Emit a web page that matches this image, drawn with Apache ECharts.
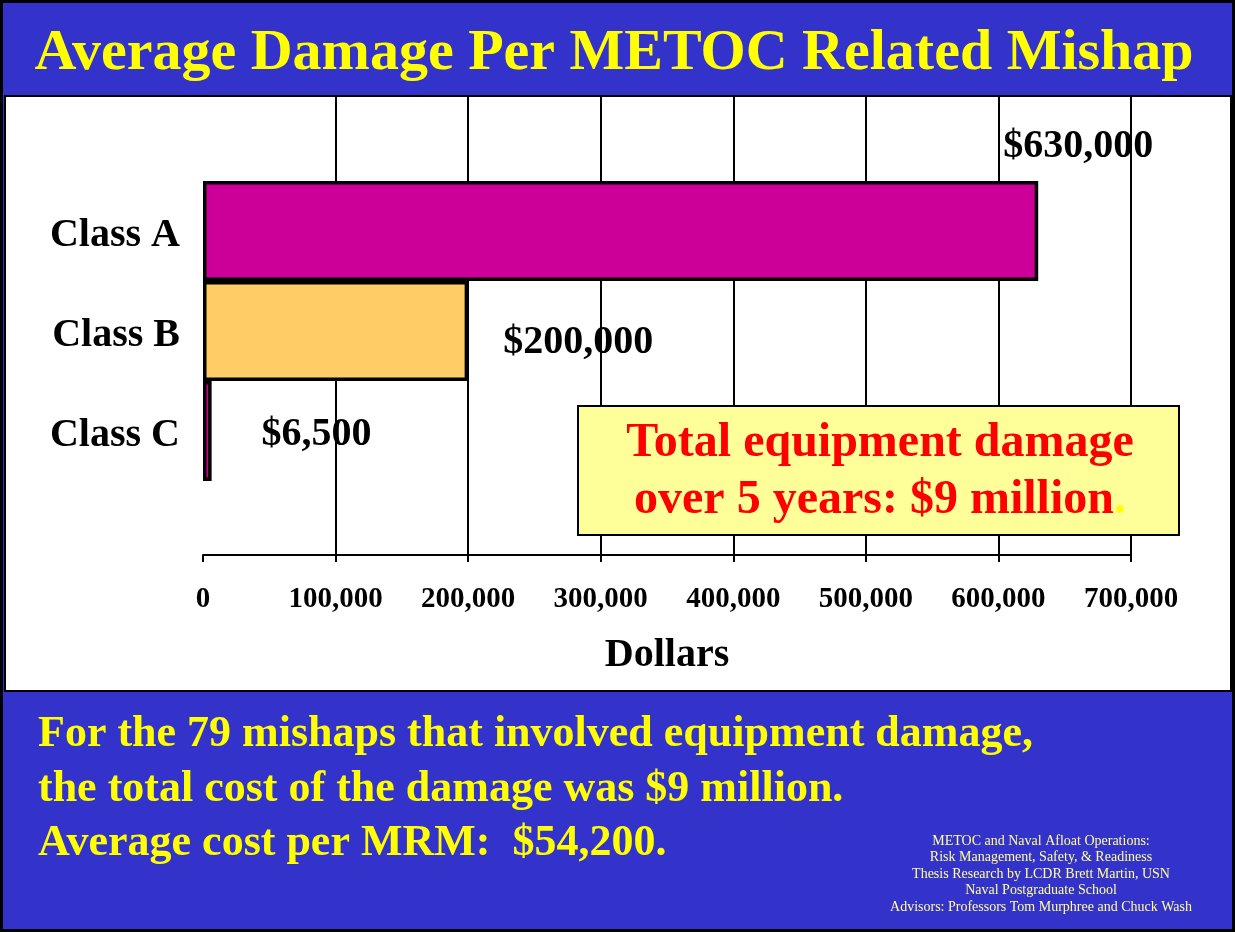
<!DOCTYPE html>
<html lang="en">
<head>
    <meta charset="UTF-8">
    <script src="https://cdn.jsdelivr.net/npm/echarts@6/dist/echarts.min.js"></script>
    <title>Average Damage Per METOC Related Mishap</title>
    <style>
        html, body { margin: 0; padding: 0; background: #3333CC; }
        #main { width: 1235px; height: 932px; }
    </style>
</head>
<body>
    <div id="main"></div>
    <script>
        // data
        var categories = ['Class A', 'Class B', 'Class C'];
        var damage = [630000, 200000, 6500];
        var axisMax = 700000;
        var axisStep = 100000;

        var titleText = 'Average Damage Per METOC Related Mishap';
        var boxLines = ['Total equipment damage', 'over 5 years: $9 million'];
        var footLines = [
            'For the 79 mishaps that involved equipment damage,',
            'the total cost of the damage was $9 million.',
            'Average cost per MRM:  $54,200.'
        ];
        var creditLines = [
            'METOC and Naval Afloat Operations:',
            'Risk Management, Safety, & Readiness',
            'Thesis Research by LCDR Brett Martin, USN',
            'Naval Postgraduate School',
            'Advisors: Professors Tom Murphree and Chuck Wash'
        ];

        var serif = '"Liberation Serif", "DejaVu Serif", serif';
        var barColors = ['#CC0099', '#FFCC66', '#CC0099'];
        var labelOffsets = [[-40, -84], [30, 12], [45, 4]];

        var chart = echarts.init(document.getElementById('main'));

        var barData = damage.map(function (v, i) {
            return {
                value: v,
                itemStyle: { color: barColors[i] },
                label: { offset: labelOffsets[i] }
            };
        });

        var graphics = [
            { type: 'rect', z: -10, shape: { x: 5, y: 96, width: 1226, height: 595 },
              style: { fill: '#FFFFFF', stroke: '#000', lineWidth: 2 } },
            { type: 'rect', z: 200, shape: { x: 1.5, y: 1.5, width: 1232, height: 929 },
              style: { fill: 'none', stroke: '#000', lineWidth: 3 } },
            { type: 'text', x: 614, y: 54,
              style: { text: titleText, fill: '#FFFF00', font: 'bold 58px ' + serif,
                       align: 'center', verticalAlign: 'middle' } },
            { type: 'rect', z: 50, shape: { x: 578, y: 406, width: 601, height: 129 },
              style: { fill: '#FFFF99', stroke: '#000', lineWidth: 2 } },
            { type: 'text', z: 51, x: 880, y: 472,
              style: {
                  text: '{r|' + boxLines[0] + '}\n{r|' + boxLines[1] + '}{y|.}',
                  align: 'center', verticalAlign: 'middle',
                  rich: {
                      r: { fill: '#FF0000', font: 'bold 48px ' + serif, lineHeight: 57 },
                      y: { fill: '#FFFF00', font: 'bold 48px ' + serif, lineHeight: 57 }
                  }
              } }
        ];
        footLines.forEach(function (t, i) {
            graphics.push({ type: 'text', x: 38, y: 735 + i * 54.5,
                style: { text: t, fill: '#FFFF00', font: 'bold 44px ' + serif,
                         align: 'left', verticalAlign: 'middle' } });
        });
        creditLines.forEach(function (t, i) {
            graphics.push({ type: 'text', x: 1041, y: 841 + i * 16.5,
                style: { text: t, fill: '#FFFF99', font: '14px ' + serif,
                         align: 'center', verticalAlign: 'middle' } });
        });

        var option = {
            backgroundColor: '#3333CC',
            animation: false,
            grid: [
                { left: 203, right: 104, top: 97, bottom: 377 },
                { left: 203, right: 104, top: 181, height: 300 }
            ],
            xAxis: [
                {
                    gridIndex: 0, type: 'value', min: 0, max: axisMax, interval: axisStep,
                    axisLine: { show: true, onZero: false, lineStyle: { color: '#000', width: 2 } },
                    axisTick: { show: true, length: 7, lineStyle: { color: '#000', width: 2 } },
                    splitLine: { show: true, showMinLine: false, lineStyle: { color: '#000', width: 2 } },
                    axisLabel: {
                        color: '#000', fontFamily: serif, fontWeight: 'bold', fontSize: 29, margin: 30,
                        formatter: function (v) { return v.toLocaleString('en-US'); }
                    },
                    name: 'Dollars', nameLocation: 'middle', nameGap: 81,
                    nameTextStyle: { color: '#000', fontFamily: serif, fontWeight: 'bold', fontSize: 40 }
                },
                { gridIndex: 1, type: 'value', min: 0, max: axisMax, show: false }
            ],
            yAxis: [
                { gridIndex: 0, type: 'value', min: 0, max: 1, show: false },
                {
                    gridIndex: 1, type: 'category', data: categories, inverse: true,
                    axisLine: { show: false }, axisTick: { show: false }, splitLine: { show: false },
                    axisLabel: { color: '#000', fontFamily: serif, fontWeight: 'bold', fontSize: 40,
                                 margin: 23, verticalAlign: 'top', lineHeight: 10 }
                }
            ],
            series: [{
                type: 'bar', xAxisIndex: 1, yAxisIndex: 1,
                barWidth: '100%',
                data: barData,
                itemStyle: { borderColor: '#000', borderWidth: 3.5 },
                label: {
                    show: true, position: 'right', distance: 5,
                    color: '#000', fontFamily: serif, fontWeight: 'bold', fontSize: 40,
                    formatter: function (p) { return '$' + p.value.toLocaleString('en-US'); }
                }
            }],
            graphic: graphics
        };

        chart.setOption(option);
    </script>
</body>
</html>
